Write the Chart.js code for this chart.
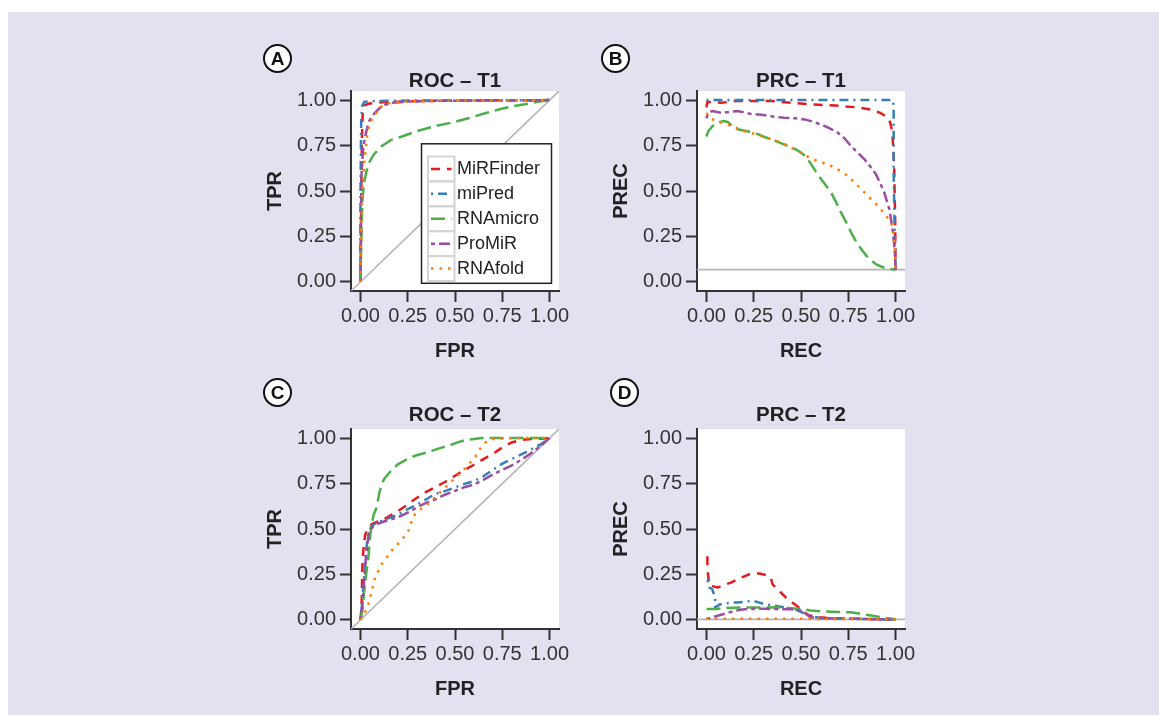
<!DOCTYPE html>
<html><head><meta charset="utf-8">
<script src="https://cdn.jsdelivr.net/npm/chart.js@4"></script>
<style>
html,body{margin:0;padding:0;background:#fff;}
body{width:1159px;height:715px;position:relative;overflow:hidden;font-family:"Liberation Sans",Arial,sans-serif;}
#bg{position:absolute;left:8px;top:12px;right:0;bottom:0;background:#e3e0ef;}
canvas{position:absolute;}
.tag{position:absolute;width:25px;height:25px;border:2px solid #111;border-radius:50%;background:#fff;font-weight:bold;font-size:19px;line-height:25px;text-align:center;color:#111;}
</style></head><body>
<div id="bg"></div>
<canvas id="cA" width="345" height="320" style="left:240px;top:60px"></canvas>
<canvas id="cB" width="345" height="320" style="left:586px;top:60px"></canvas>
<canvas id="cC" width="345" height="320" style="left:240px;top:398px"></canvas>
<canvas id="cD" width="345" height="320" style="left:586px;top:398px"></canvas>
<div class="tag" style="left:263px;top:44px">A</div>
<div class="tag" style="left:601px;top:44px">B</div>
<div class="tag" style="left:263px;top:378px">C</div>
<div class="tag" style="left:610px;top:378px">D</div>
<script>
// ---------- data ----------
const xTicks = [0, 0.25, 0.5, 0.75, 1];
const yTicks = [0, 0.25, 0.5, 0.75, 1];
const seriesNames = ['MiRFinder', 'miPred', 'RNAmicro', 'ProMiR', 'RNAfold'];

// Panel A: ROC – T1  ([FPR, TPR])
const rocT1_MiRFinder = [[0,0],[0.003,0.3],[0.005,0.55],[0.008,0.8],[0.012,0.93],[0.02,0.97],[0.04,0.98],[0.08,0.985],[0.15,0.99],[0.3,0.995],[0.6,0.998],[1,1]];
const rocT1_miPred = [[0,0],[0,0.45],[0.002,0.7],[0.004,0.9],[0.01,0.97],[0.02,0.99],[0.05,0.995],[0.2,0.997],[1,1]];
const rocT1_RNAmicro = [[0,0],[0.005,0.25],[0.01,0.45],[0.02,0.55],[0.03,0.6],[0.045,0.655],[0.07,0.7],[0.11,0.745],[0.16,0.78],[0.22,0.8],[0.3,0.83],[0.4,0.858],[0.5,0.88],[0.57,0.9],[0.65,0.925],[0.73,0.948],[0.8,0.965],[0.87,0.977],[0.93,0.99],[1,1]];
const rocT1_ProMiR = [[0,0],[0.003,0.4],[0.006,0.6],[0.012,0.7],[0.016,0.75],[0.025,0.8],[0.042,0.876],[0.06,0.91],[0.077,0.93],[0.1,0.955],[0.13,0.975],[0.17,0.985],[0.25,0.992],[0.4,0.996],[1,1]];
const rocT1_RNAfold = [[0,0],[0.005,0.3],[0.01,0.5],[0.02,0.65],[0.033,0.785],[0.042,0.84],[0.06,0.894],[0.08,0.925],[0.095,0.94],[0.11,0.965],[0.13,0.976],[0.16,0.985],[0.25,0.993],[0.5,0.997],[1,1]];

// Panel B: PRC – T1  ([REC, PREC])
const prcT1_MiRFinder = [[0,0.96],[0.005,0.99],[0.03,0.99],[0.08,0.985],[0.15,0.995],[0.25,0.995],[0.34,0.995],[0.45,0.985],[0.57,0.976],[0.68,0.97],[0.8,0.96],[0.86,0.95],[0.92,0.93],[0.95,0.91],[0.967,0.894],[0.978,0.85],[0.984,0.8],[0.99,0.7],[0.993,0.62],[0.996,0.45],[0.998,0.347],[0.999,0.2],[1,0.0675]];
const prcT1_miPred = [[0,1],[0.3,1],[0.6,1],[0.9,1],[0.985,1],[0.99,0.97],[0.99,0.6],[0.995,0.3],[1,0.0675]];
const prcT1_RNAmicro = [[0,0.8],[0.01,0.83],[0.033,0.858],[0.06,0.876],[0.09,0.885],[0.113,0.88],[0.14,0.855],[0.165,0.84],[0.21,0.83],[0.254,0.821],[0.3,0.8],[0.342,0.785],[0.39,0.765],[0.43,0.748],[0.47,0.73],[0.5,0.712],[0.53,0.685],[0.553,0.648],[0.58,0.605],[0.606,0.566],[0.632,0.53],[0.658,0.493],[0.685,0.44],[0.711,0.383],[0.738,0.33],[0.764,0.274],[0.79,0.225],[0.817,0.182],[0.845,0.145],[0.87,0.119],[0.9,0.095],[0.93,0.082],[0.96,0.072],[1,0.0675]];
const prcT1_ProMiR = [[0,0.9],[0.01,0.93],[0.03,0.94],[0.077,0.93],[0.12,0.935],[0.165,0.94],[0.23,0.925],[0.29,0.92],[0.35,0.91],[0.41,0.903],[0.47,0.9],[0.518,0.894],[0.57,0.88],[0.623,0.858],[0.66,0.84],[0.694,0.821],[0.73,0.79],[0.764,0.748],[0.8,0.71],[0.835,0.675],[0.87,0.63],[0.896,0.593],[0.92,0.54],[0.94,0.493],[0.955,0.44],[0.967,0.401],[0.984,0.292],[0.995,0.18],[1,0.0675]];
const prcT1_RNAfold = [[0,0.93],[0.02,0.9],[0.05,0.885],[0.1,0.87],[0.15,0.85],[0.2,0.83],[0.3,0.8],[0.4,0.765],[0.5,0.71],[0.55,0.68],[0.6,0.66],[0.64,0.648],[0.694,0.62],[0.746,0.584],[0.8,0.529],[0.852,0.474],[0.905,0.42],[0.95,0.365],[0.984,0.31],[0.995,0.2],[1,0.0675]];

// Panel C: ROC – T2
const rocT2_MiRFinder = [[0,0],[0.005,0.06],[0.007,0.125],[0.01,0.29],[0.015,0.38],[0.025,0.47],[0.04,0.5],[0.06,0.527],[0.09,0.54],[0.113,0.546],[0.15,0.57],[0.2,0.6],[0.25,0.635],[0.289,0.665],[0.34,0.7],[0.394,0.729],[0.45,0.76],[0.5,0.793],[0.55,0.825],[0.606,0.857],[0.66,0.89],[0.711,0.921],[0.76,0.955],[0.8,0.976],[0.85,0.99],[0.905,0.995],[1,1]];
const rocT2_miPred = [[0,0],[0.01,0.1],[0.02,0.25],[0.03,0.38],[0.04,0.47],[0.06,0.52],[0.1,0.54],[0.15,0.56],[0.2,0.58],[0.25,0.61],[0.3,0.635],[0.35,0.665],[0.394,0.692],[0.45,0.71],[0.5,0.729],[0.55,0.748],[0.606,0.766],[0.65,0.79],[0.7,0.825],[0.746,0.857],[0.78,0.875],[0.817,0.894],[0.87,0.92],[0.923,0.949],[0.96,0.97],[1,1]];
const rocT2_RNAmicro = [[0,0],[0.01,0.05],[0.02,0.16],[0.03,0.25],[0.042,0.344],[0.05,0.45],[0.06,0.527],[0.07,0.58],[0.086,0.619],[0.1,0.7],[0.113,0.747],[0.125,0.775],[0.139,0.793],[0.17,0.83],[0.2,0.857],[0.24,0.88],[0.289,0.903],[0.33,0.915],[0.377,0.93],[0.42,0.945],[0.465,0.958],[0.51,0.975],[0.553,0.989],[0.6,0.995],[0.641,1],[0.8,1],[1,1]];
const rocT2_ProMiR = [[0,0],[0.01,0.08],[0.02,0.22],[0.03,0.36],[0.045,0.48],[0.07,0.52],[0.12,0.54],[0.2,0.565],[0.25,0.59],[0.3,0.62],[0.35,0.645],[0.4,0.665],[0.45,0.69],[0.5,0.71],[0.55,0.73],[0.6,0.745],[0.65,0.77],[0.7,0.8],[0.75,0.825],[0.8,0.85],[0.85,0.88],[0.9,0.915],[0.95,0.955],[1,1]];
const rocT2_RNAfold = [[0,0],[0.02,0.03],[0.042,0.088],[0.06,0.16],[0.077,0.234],[0.1,0.28],[0.113,0.308],[0.14,0.345],[0.165,0.381],[0.2,0.42],[0.23,0.455],[0.254,0.491],[0.27,0.54],[0.289,0.582],[0.32,0.61],[0.36,0.64],[0.4,0.68],[0.45,0.73],[0.5,0.78],[0.55,0.83],[0.606,0.895],[0.641,0.955],[0.67,0.985],[0.694,0.995],[0.8,1],[1,1]];

// Panel D: PRC – T2
const prcT2_MiRFinder = [[0.005,0.35],[0.005,0.28],[0.015,0.19],[0.025,0.187],[0.06,0.178],[0.1,0.195],[0.13,0.205],[0.165,0.223],[0.2,0.24],[0.236,0.255],[0.28,0.255],[0.32,0.245],[0.34,0.232],[0.35,0.196],[0.37,0.175],[0.394,0.15],[0.42,0.123],[0.44,0.105],[0.465,0.087],[0.5,0.06],[0.52,0.04],[0.544,0.024],[0.6,0.015],[0.64,0.011],[0.8,0.006],[1,0.002]];
const prcT2_miPred = [[0.005,0.21],[0.007,0.214],[0.016,0.178],[0.03,0.17],[0.046,0.123],[0.046,0.069],[0.07,0.085],[0.104,0.09],[0.13,0.095],[0.165,0.096],[0.2,0.1],[0.245,0.105],[0.28,0.095],[0.306,0.087],[0.35,0.08],[0.394,0.072],[0.43,0.066],[0.465,0.06],[0.5,0.045],[0.535,0.024],[0.6,0.01],[0.8,0.005],[1,0.002]];
const prcT2_RNAmicro = [[0,0.06],[0.05,0.06],[0.1,0.065],[0.2,0.069],[0.3,0.068],[0.377,0.069],[0.45,0.064],[0.5,0.06],[0.55,0.052],[0.606,0.047],[0.7,0.044],[0.764,0.042],[0.82,0.032],[0.887,0.022],[0.94,0.012],[1,0.004]];
const prcT2_ProMiR = [[0,0.005],[0.05,0.02],[0.1,0.035],[0.15,0.05],[0.2,0.058],[0.25,0.06],[0.3,0.062],[0.35,0.06],[0.4,0.058],[0.45,0.058],[0.5,0.052],[0.53,0.03],[0.55,0.015],[0.6,0.01],[0.7,0.008],[0.8,0.006],[0.9,0.004],[1,0.001]];
const prcT2_RNAfold = [[0,0.007],[0.25,0.007],[0.5,0.006],[0.75,0.005],[1,0.004]];

// reference lines
const rocDiagonal = [[-0.05,-0.05],[1.05,1.05]];
const prcT1Baseline = [[-0.05,0.0675],[1.05,0.0675]];
const prcT2Baseline = [[-0.05,0.003],[1.05,0.003]];

// ---------- styles ----------
const FONT = '"Liberation Sans", Arial, Helvetica, sans-serif';
Chart.defaults.font.family = FONT;
const seriesStyle = {
  MiRFinder: {color:'#E41A1C', dash:[9,7]},
  miPred:    {color:'#377EB8', dash:[2,5,9,5]},
  RNAmicro:  {color:'#4DAF4A', dash:[14,6]},
  ProMiR:    {color:'#984EA3', dash:[4,4,11,4]},
  RNAfold:   {color:'#FF7F00', dash:[2.5,6]}
};
const toXY = arr => arr.map(p => ({x:p[0], y:p[1]}));

const whiteArea = {
  id:'whiteArea',
  beforeDraw(chart){
    const a = chart.chartArea, c = chart.ctx;
    c.save(); c.fillStyle = '#ffffff';
    c.fillRect(a.left, a.top, a.right - a.left, a.bottom - a.top);
    c.restore();
  }
};
const innerLegend = {
  id:'innerLegend',
  afterDatasetsDraw(chart, args, opts){
    if (!opts || !opts.display) return;
    const a = chart.chartArea, c = chart.ctx;
    const W = 130, H = 139.5;
    const x0 = a.right - 7.5 - W, y0 = a.bottom - 7.7 - H;
    c.save();
    c.fillStyle = '#fff'; c.fillRect(x0, y0, W, H);
    c.strokeStyle = '#222'; c.lineWidth = 1.5; c.strokeRect(x0, y0, W, H);
    const ds = chart.data.datasets.filter(d => d.isSeries);
    const kx = x0 + 6.5, kw = 26.5, kh = 24.9, ky0 = y0 + 12.7;
    ds.forEach((d, i) => {
      const ky = ky0 + i * kh;
      c.setLineDash([]); c.strokeStyle = '#d4d4d4'; c.lineWidth = 2;
      c.strokeRect(kx, ky, kw, kh);
      c.strokeStyle = d.borderColor; c.lineWidth = d.borderWidth;
      c.setLineDash(d.borderDash);
      c.beginPath(); c.moveTo(kx + 3, ky + kh / 2); c.lineTo(kx + kw - 3, ky + kh / 2); c.stroke();
      c.setLineDash([]);
      c.fillStyle = '#222'; c.font = '18px ' + FONT; c.textBaseline = 'middle'; c.textAlign = 'left';
      c.fillText(d.label, kx + kw + 2.5, ky + kh / 2 + 0.5);
    });
    c.restore();
  }
};

function makeChart(id, title, titlePad, xTitle, yTitle, series, refLine, withLegend){
  const datasets = [{
    label:'ref', data: toXY(refLine), borderColor:'#b5b5b5', borderWidth:1.6,
    pointRadius:0, order:10, isSeries:false
  }];
  seriesNames.forEach((n, i) => {
    datasets.push({
      label:n, data: toXY(series[i]), borderColor: seriesStyle[n].color,
      borderDash: seriesStyle[n].dash, borderWidth:2.5, pointRadius:0,
      order: 5 - i, isSeries:true, borderCapStyle:'butt'
    });
  });
  const tickSet = vals => function(scale){ scale.ticks = vals.map(v => ({value:v})); };
  return new Chart(document.getElementById(id), {
    type:'line',
    data:{datasets},
    plugins:[whiteArea, innerLegend],
    options:{
      responsive:false, animation:false,
      layout:{padding:{left:0, right:26, top:0, bottom:0}},
      elements:{line:{tension:0}},
      plugins:{
        legend:{display:false}, tooltip:{enabled:false},
        title:{display:true, fullSize:false, text:title, color:'#222',
          font:{size:20.5, weight:'bold', lineHeight:0.85},
          padding:{top:titlePad, bottom:31 - titlePad - 17.4}},
        innerLegend:{display: withLegend}
      },
      scales:{
        x:{type:'linear', min:-0.05, max:1.05,
          afterBuildTicks: tickSet(xTicks),
          afterFit(s){ s.height = 89; },
          ticks:{callback:v => Number(v).toFixed(2), color:'#333', font:{size:20}, padding:2, maxRotation:0, autoSkip:false},
          grid:{drawOnChartArea:false, drawTicks:true, tickLength:11, tickWidth:2, tickColor:'#333'},
          border:{display:true, color:'#333', width:2},
          title:{display:true, text:xTitle, color:'#222', font:{size:20, weight:'bold', lineHeight:1.2}, padding:{top:0, bottom:17}}
        },
        y:{type:'linear', min:-0.05, max:1.05,
          afterBuildTicks: tickSet(yTicks),
          afterFit(s){ s.width = 111; },
          ticks:{callback:v => Number(v).toFixed(2), color:'#333', font:{size:20}, padding:4, autoSkip:false},
          grid:{drawOnChartArea:false, drawTicks:true, tickLength:11, tickWidth:2, tickColor:'#333'},
          border:{display:true, color:'#333', width:2},
          title:{display:true, text:yTitle, color:'#222', font:{size:20, weight:'bold', lineHeight:1.2}, padding:{top:23, bottom:0}}
        }
      }
    }
  });
}

makeChart('cA', 'ROC – T1', 12.2, 'FPR', 'TPR',
  [rocT1_MiRFinder, rocT1_miPred, rocT1_RNAmicro, rocT1_ProMiR, rocT1_RNAfold], rocDiagonal, true);
makeChart('cB', 'PRC – T1', 12.2, 'REC', 'PREC',
  [prcT1_MiRFinder, prcT1_miPred, prcT1_RNAmicro, prcT1_ProMiR, prcT1_RNAfold], prcT1Baseline, false);
makeChart('cC', 'ROC – T2', 8.8, 'FPR', 'TPR',
  [rocT2_MiRFinder, rocT2_miPred, rocT2_RNAmicro, rocT2_ProMiR, rocT2_RNAfold], rocDiagonal, false);
makeChart('cD', 'PRC – T2', 8.8, 'REC', 'PREC',
  [prcT2_MiRFinder, prcT2_miPred, prcT2_RNAmicro, prcT2_ProMiR, prcT2_RNAfold], prcT2Baseline, false);
</script>
</body></html>
